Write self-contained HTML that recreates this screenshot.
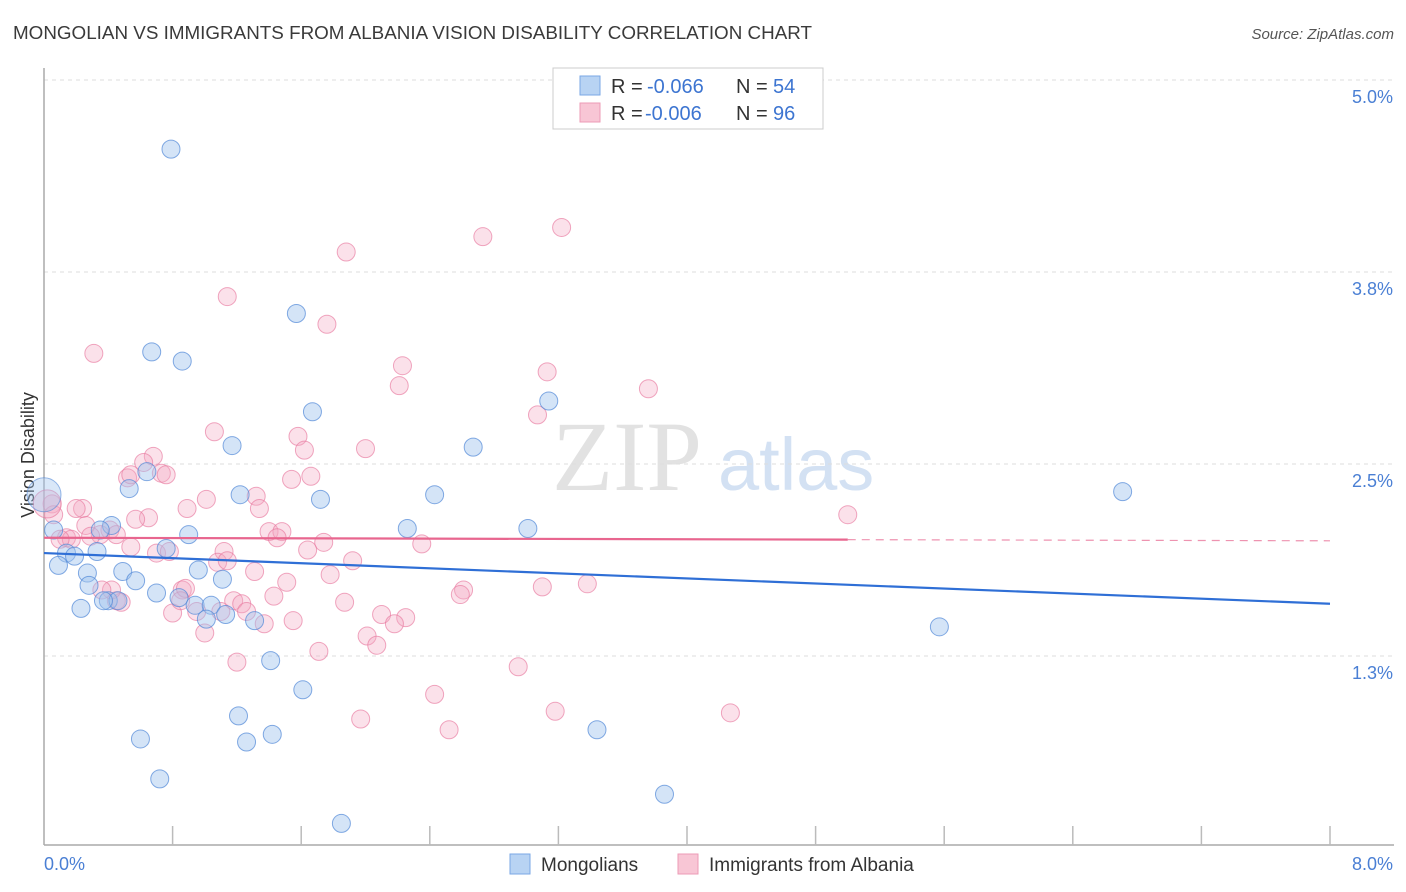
<!DOCTYPE html>
<html><head><meta charset="utf-8"><style>
body{margin:0;background:#fff;font-family:"Liberation Sans",sans-serif;}
svg{display:block}
</style></head><body>
<svg id="chart" width="1406" height="892" viewBox="0 0 1406 892" xmlns="http://www.w3.org/2000/svg">
<text x="13" y="39" font-size="18" fill="#3a3a3a" textLength="799" lengthAdjust="spacingAndGlyphs">MONGOLIAN VS IMMIGRANTS FROM ALBANIA VISION DISABILITY CORRELATION CHART</text>
<text x="1394" y="39" font-size="15" fill="#555" font-style="italic" text-anchor="end">Source: ZipAtlas.com</text>
<g>
<text x="552" y="490" font-size="100" fill="#e2e2e2" font-family="Liberation Serif,serif">ZIP</text>
<text x="718" y="490" font-size="74" fill="#d3e1f3">atlas</text>
</g>
<g id="grid"></g>
<g id="axes"></g>
<text transform="translate(34,455) rotate(-90)" font-size="18" fill="#333" text-anchor="middle">Vision Disability</text>
<g id="pts"></g>
<g id="trend"></g>
<g>
<rect x="553" y="68" width="270" height="61" fill="#fff" stroke="#ccc"/>
<rect x="580" y="76" width="20" height="19" fill="#b8d3f3" stroke="#7aa7e4"/>
<rect x="580" y="103" width="20" height="19" fill="#f8c6d5" stroke="#ec9bb6"/>
<text x="611" y="93" font-size="20" fill="#333">R =</text>
<text x="647" y="93" font-size="20" fill="#3d75d1">-0.066</text>
<text x="736" y="93" font-size="20" fill="#333">N =</text>
<text x="773" y="93" font-size="20" fill="#3d75d1">54</text>
<text x="611" y="120" font-size="20" fill="#333">R =</text>
<text x="645" y="120" font-size="20" fill="#3d75d1">-0.006</text>
<text x="736" y="120" font-size="20" fill="#333">N =</text>
<text x="773" y="120" font-size="20" fill="#3d75d1">96</text>
</g>
<g>
<rect x="510" y="854" width="20" height="20" fill="#b8d3f3" stroke="#7aa7e4"/>
<text x="541" y="871" font-size="19" fill="#333">Mongolians</text>
<rect x="678" y="854" width="20" height="20" fill="#f8c6d5" stroke="#ec9bb6"/>
<text x="709" y="871" font-size="19" fill="#333">Immigrants from Albania</text>
</g>
</svg>
<script>
const yTicks=[5.0,3.75,2.5,1.25];
const yTickLabels=["5.0%","3.8%","2.5%","1.3%"];
const xTickCount=10;
const xMin=0,xMax=8,yMax=5,yMin=0;
const blueX=[0.79,0.67,0.86,1.57,1.67,1.17,2.67,3.14,1.22,1.72,2.43,0.53,0.64,2.26,3.01,0.90,0.42,6.71,0.06,0.33,0.14,0.19,0.09,0.27,0.49,0.57,0.28,0.23,0.40,0.46,0.70,0.84,0.96,1.11,0.94,1.04,1.13,1.31,1.01,5.57,1.41,1.61,1.21,0.60,1.26,1.42,3.44,0.72,3.86,1.85,0.76,0.35,0.37];
const blueY=[4.55,3.23,3.17,3.48,2.84,2.62,2.61,2.91,2.30,2.27,2.30,2.34,2.45,2.08,2.08,2.04,2.10,2.32,2.07,1.93,1.92,1.90,1.84,1.79,1.80,1.74,1.71,1.56,1.61,1.61,1.66,1.63,1.81,1.75,1.58,1.58,1.52,1.48,1.49,1.44,1.22,1.03,0.86,0.71,0.69,0.74,0.77,0.45,0.35,0.16,1.95,2.07,1.61];
const pinkX=[3.22,2.73,1.88,1.14,1.76,0.31,2.23,3.13,2.21,3.76,3.07,1.06,1.58,1.62,2.00,0.68,0.62,0.73,0.76,0.52,1.54,1.66,1.01,1.32,0.89,1.34,0.24,0.20,0.05,0.06,0.65,0.57,5.00,0.26,0.41,0.45,0.35,0.14,0.17,1.40,1.48,1.45,1.74,2.35,0.54,1.64,0.70,1.12,0.78,1.92,1.08,1.31,1.78,1.51,0.86,0.88,1.43,1.18,1.23,2.61,2.59,3.10,3.38,1.87,0.45,0.48,0.80,0.95,1.10,1.26,2.10,2.25,2.18,1.37,1.55,2.01,2.07,1.00,1.71,1.20,2.95,2.43,3.18,4.27,1.97,2.52,0.42,0.36,0.02,0.29,0.10,0.54,1.14,0.85];
const pinkY=[4.04,3.98,3.88,3.59,3.41,3.22,3.14,3.10,3.01,2.99,2.82,2.71,2.68,2.59,2.60,2.55,2.51,2.44,2.43,2.41,2.40,2.42,2.27,2.29,2.21,2.21,2.21,2.21,2.24,2.17,2.15,2.14,2.17,2.10,2.07,2.04,2.04,2.02,2.01,2.06,2.06,2.02,1.99,1.98,1.96,1.94,1.92,1.93,1.93,1.87,1.86,1.80,1.78,1.73,1.68,1.69,1.64,1.61,1.59,1.68,1.65,1.70,1.72,1.60,1.61,1.60,1.53,1.54,1.54,1.54,1.52,1.50,1.46,1.46,1.48,1.38,1.32,1.40,1.28,1.21,1.18,1.00,0.89,0.88,0.84,0.77,1.68,1.68,2.24,2.03,2.01,2.43,1.87,1.61];
const blueTrend=[1.92,1.59];
const pinkTrend=[2.02,2.00];
const pinkSolidEnd=5.0;
const NS="http://www.w3.org/2000/svg";
const L=44,R=1330,T=80,B=848;
const xs=v=>L+(v-xMin)/(xMax-xMin)*(R-L);
const ys=v=>T+(yMax-v)/(yMax-yMin)*(B-T);
function mk(tag,attrs,parent){const e=document.createElementNS(NS,tag);for(const k in attrs)e.setAttribute(k,attrs[k]);parent.appendChild(e);return e;}
const grid=document.getElementById('grid'),axes=document.getElementById('axes');
yTicks.forEach((t,i)=>{
 const g=mk('line',{x1:L,x2:1394,y1:ys(t),y2:ys(t),stroke:'#ddd','stroke-dasharray':'4,4'},grid);
 
 
 const tx=mk('text',{x:1393,y:ys(t)+23,'font-size':18,fill:'#4a7fd4','text-anchor':'end'},axes);
 tx.textContent=yTickLabels[i];
 
 
});
const ya=mk('line',{x1:L,x2:L,y1:68,y2:845,stroke:'#aaa','stroke-width':1.5},axes);


const xa=mk('line',{x1:L,x2:1394,y1:845,y2:845,stroke:'#aaa','stroke-width':1.5},axes);


for(let i=1;i<=xTickCount;i++){
 const x=L+i*(R-L)/xTickCount;
 const tk=mk('line',{x1:x,x2:x,y1:826,y2:845,stroke:'#bbb','stroke-width':1.5},axes);
 
 
}
const x0=mk('text',{x:44,y:870,'font-size':18,fill:'#4a7fd4'},axes);x0.textContent='0.0%';


const x1=mk('text',{x:1393,y:870,'font-size':18,fill:'#4a7fd4','text-anchor':'end'},axes);x1.textContent='8.0%';


const pts=document.getElementById('pts');
pinkX.forEach((v,i)=>{
 const r=(i===88)?14:9;
 const c=mk('circle',{cx:xs(v),cy:ys(pinkY[i]),r:r,fill:'rgba(244,170,195,0.35)',stroke:'rgba(232,120,158,0.65)','stroke-width':1},pts);
 
 
});
blueX.forEach((v,i)=>{
 const c=mk('circle',{cx:xs(v),cy:ys(blueY[i]),r:9,fill:'rgba(160,195,238,0.45)',stroke:'rgba(80,135,215,0.7)','stroke-width':1},pts);
 
 
});
const big=mk('circle',{cx:xs(0),cy:ys(2.30),r:17,fill:'rgba(160,195,238,0.4)',stroke:'rgba(80,135,215,0.6)'},pts);


const tr=document.getElementById('trend');
const bl=mk('line',{x1:xs(0),y1:ys(blueTrend[0]),x2:xs(8),y2:ys(blueTrend[1]),stroke:'#2f6fd6','stroke-width':2.2},tr);


const pm=pinkTrend[0]+(pinkTrend[1]-pinkTrend[0])*pinkSolidEnd/8;
const pl=mk('line',{x1:xs(0),y1:ys(pinkTrend[0]),x2:xs(pinkSolidEnd),y2:ys(pm),stroke:'#e8668f','stroke-width':2.2},tr);


const pd=mk('line',{x1:xs(pinkSolidEnd),y1:ys(pm),x2:xs(8),y2:ys(pinkTrend[1]),stroke:'#e8668f','stroke-width':1.2,'stroke-dasharray':'8,6','opacity':0.7},tr);


</script>
</body></html>
